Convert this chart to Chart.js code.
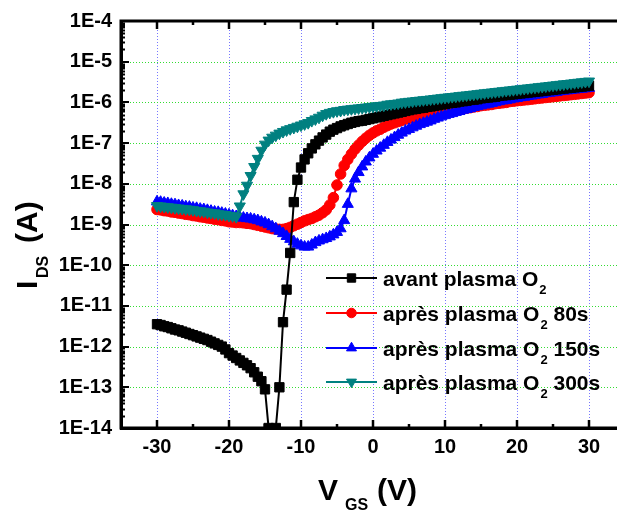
<!DOCTYPE html>
<html><head><meta charset="utf-8">
<script src="https://cdn.jsdelivr.net/npm/chart.js@4/dist/chart.umd.min.js"></script>
<style>
html,body{margin:0;padding:0;background:#fff;overflow:hidden;}
#wrap{position:relative;width:640px;height:511px;}
</style></head><body>
<div id="wrap"><canvas id="c" width="640" height="511"></canvas></div>
<script>
// V_GS (V)
const vgs = [
-30,-29.5,-29,-28.5,-28,-27.5,-27,-26.5,-26,-25.5,
-25,-24.5,-24,-23.5,-23,-22.5,-22,-21.5,-21,-20.5,
-20,-19.5,-19,-18.5,-18,-17.5,-17,-16.5,-16,-15.5,
-15,-14.5,-14,-13.5,-13,-12.5,-12,-11.5,-11,-10.5,
-10,-9.5,-9,-8.5,-8,-7.5,-7,-6.5,-6,-5.5,
-5,-4.5,-4,-3.5,-3,-2.5,-2,-1.5,-1,-0.5,
0,0.5,1,1.5,2,2.5,3,3.5,4,4.5,
5,5.5,6,6.5,7,7.5,8,8.5,9,9.5,
10,10.5,11,11.5,12,12.5,13,13.5,14,14.5,
15,15.5,16,16.5,17,17.5,18,18.5,19,19.5,
20,20.5,21,21.5,22,22.5,23,23.5,24,24.5,
25,25.5,26,26.5,27,27.5,28,28.5,29,29.5,
30];

// I_DS (A) — avant plasma O2
const avantPlasma = [
3.55e-12,3.39e-12,3.16e-12,3.02e-12,2.82e-12,2.63e-12,2.51e-12,2.34e-12,2.19e-12,2.04e-12,
1.91e-12,1.78e-12,1.66e-12,1.55e-12,1.45e-12,1.32e-12,1.20e-12,1.10e-12,1.00e-12,8.51e-13,
6.92e-13,6.03e-13,5.25e-13,4.57e-13,3.98e-13,3.47e-13,2.95e-13,2.34e-13,1.82e-13,1.41e-13,
8.91e-14,1.0e-14,9.0e-15,1.0e-14,1.0e-13,3.98e-12,2.51e-11,2.00e-10,3.55e-9,1.26e-8,
2.51e-8,3.98e-8,5.62e-8,7.41e-8,9.33e-8,1.15e-7,1.38e-7,1.62e-7,1.91e-7,2.14e-7,
2.34e-7,2.57e-7,2.75e-7,2.95e-7,3.16e-7,3.31e-7,3.47e-7,3.55e-7,3.72e-7,3.89e-7,
4.07e-7,4.27e-7,4.47e-7,4.68e-7,4.90e-7,5.13e-7,5.37e-7,5.62e-7,5.89e-7,6.17e-7,
6.46e-7,6.76e-7,6.92e-7,7.24e-7,7.41e-7,7.76e-7,7.94e-7,8.32e-7,8.51e-7,8.91e-7,
9.12e-7,9.55e-7,9.77e-7,1.00e-6,1.05e-6,1.07e-6,1.10e-6,1.15e-6,1.17e-6,1.20e-6,
1.26e-6,1.29e-6,1.32e-6,1.35e-6,1.38e-6,1.45e-6,1.48e-6,1.51e-6,1.55e-6,1.58e-6,
1.62e-6,1.66e-6,1.70e-6,1.74e-6,1.78e-6,1.82e-6,1.86e-6,1.91e-6,1.95e-6,2.00e-6,
2.04e-6,2.09e-6,2.14e-6,2.19e-6,2.24e-6,2.29e-6,2.34e-6,2.40e-6,2.45e-6,2.51e-6,
2.57e-6];

// après plasma O2 80s
const apres80s = [
2.34e-9,2.29e-9,2.19e-9,2.14e-9,2.04e-9,2.00e-9,1.91e-9,1.86e-9,1.78e-9,1.74e-9,
1.66e-9,1.62e-9,1.55e-9,1.51e-9,1.45e-9,1.41e-9,1.35e-9,1.32e-9,1.26e-9,1.23e-9,
1.17e-9,1.15e-9,1.12e-9,1.12e-9,1.10e-9,1.07e-9,1.05e-9,1.00e-9,9.55e-10,9.12e-10,
8.71e-10,8.32e-10,7.94e-10,7.76e-10,7.59e-10,7.59e-10,7.94e-10,8.51e-10,9.33e-10,1.02e-9,
1.12e-9,1.23e-9,1.32e-9,1.41e-9,1.55e-9,1.70e-9,1.95e-9,2.29e-9,3.02e-9,4.57e-9,
9.33e-9,1.74e-8,2.82e-8,3.98e-8,5.37e-8,7.08e-8,8.91e-8,1.10e-7,1.32e-7,1.55e-7,
1.78e-7,2.00e-7,2.19e-7,2.45e-7,2.69e-7,2.95e-7,3.16e-7,3.39e-7,3.63e-7,3.89e-7,
4.07e-7,4.27e-7,4.47e-7,4.68e-7,4.79e-7,5.01e-7,5.13e-7,5.37e-7,5.50e-7,5.75e-7,
5.89e-7,6.17e-7,6.31e-7,6.46e-7,6.76e-7,6.92e-7,7.24e-7,7.41e-7,7.76e-7,7.94e-7,
8.32e-7,8.51e-7,8.71e-7,8.91e-7,9.33e-7,9.55e-7,9.77e-7,1.00e-6,1.05e-6,1.07e-6,
1.10e-6,1.12e-6,1.15e-6,1.17e-6,1.20e-6,1.23e-6,1.26e-6,1.29e-6,1.32e-6,1.35e-6,
1.38e-6,1.41e-6,1.45e-6,1.48e-6,1.51e-6,1.55e-6,1.58e-6,1.62e-6,1.66e-6,1.70e-6,
1.74e-6];

// après plasma O2 150s
const apres150s = [
3.63e-9,3.55e-9,3.39e-9,3.31e-9,3.16e-9,3.09e-9,2.95e-9,2.88e-9,2.75e-9,2.69e-9,
2.57e-9,2.51e-9,2.40e-9,2.34e-9,2.24e-9,2.14e-9,2.04e-9,2.00e-9,1.91e-9,1.82e-9,
1.74e-9,1.66e-9,1.58e-9,1.51e-9,1.45e-9,1.41e-9,1.38e-9,1.32e-9,1.26e-9,1.17e-9,
1.10e-9,1.00e-9,8.91e-10,7.94e-10,6.92e-10,6.03e-10,5.13e-10,4.37e-10,3.80e-10,3.31e-10,
3.02e-10,2.82e-10,2.82e-10,3.16e-10,3.63e-10,3.98e-10,4.27e-10,4.57e-10,5.01e-10,5.62e-10,
6.46e-10,7.94e-10,1.26e-9,3.16e-9,7.59e-9,1.32e-8,1.91e-8,2.63e-8,3.47e-8,4.37e-8,
5.37e-8,6.46e-8,7.59e-8,8.91e-8,1.05e-7,1.20e-7,1.38e-7,1.58e-7,1.78e-7,2.00e-7,
2.19e-7,2.40e-7,2.63e-7,2.88e-7,3.09e-7,3.31e-7,3.55e-7,3.89e-7,4.17e-7,4.47e-7,
4.79e-7,5.13e-7,5.37e-7,5.75e-7,6.03e-7,6.46e-7,6.76e-7,7.08e-7,7.59e-7,7.94e-7,
8.32e-7,8.71e-7,9.12e-7,9.55e-7,1.00e-6,1.05e-6,1.10e-6,1.12e-6,1.17e-6,1.23e-6,
1.26e-6,1.32e-6,1.35e-6,1.41e-6,1.45e-6,1.51e-6,1.55e-6,1.58e-6,1.66e-6,1.70e-6,
1.74e-6,1.78e-6,1.86e-6,1.91e-6,1.95e-6,2.00e-6,2.04e-6,2.09e-6,2.14e-6,2.19e-6,
2.24e-6];

// après plasma O2 300s
const apres300s = [
2.88e-9,2.82e-9,2.75e-9,2.69e-9,2.63e-9,2.57e-9,2.51e-9,2.45e-9,2.40e-9,2.34e-9,
2.29e-9,2.19e-9,2.14e-9,2.09e-9,2.00e-9,1.95e-9,1.91e-9,1.82e-9,1.78e-9,1.74e-9,
1.66e-9,1.62e-9,1.55e-9,2.82e-9,5.62e-9,9.12e-9,1.58e-8,2.63e-8,4.17e-8,6.61e-8,
9.33e-8,1.17e-7,1.38e-7,1.55e-7,1.74e-7,1.91e-7,2.09e-7,2.24e-7,2.40e-7,2.57e-7,
2.75e-7,2.95e-7,3.16e-7,3.55e-7,3.89e-7,4.27e-7,4.79e-7,5.25e-7,5.62e-7,5.89e-7,
6.17e-7,6.31e-7,6.61e-7,6.76e-7,6.92e-7,7.08e-7,7.24e-7,7.41e-7,7.59e-7,7.76e-7,
7.94e-7,8.13e-7,8.32e-7,8.51e-7,8.91e-7,9.12e-7,9.33e-7,9.55e-7,1.00e-6,1.02e-6,
1.05e-6,1.07e-6,1.10e-6,1.12e-6,1.15e-6,1.17e-6,1.20e-6,1.23e-6,1.26e-6,1.29e-6,
1.32e-6,1.35e-6,1.38e-6,1.41e-6,1.45e-6,1.48e-6,1.51e-6,1.55e-6,1.58e-6,1.62e-6,
1.66e-6,1.70e-6,1.74e-6,1.78e-6,1.82e-6,1.86e-6,1.91e-6,1.95e-6,2.00e-6,2.04e-6,
2.09e-6,2.14e-6,2.19e-6,2.24e-6,2.29e-6,2.34e-6,2.40e-6,2.45e-6,2.51e-6,2.57e-6,
2.63e-6,2.69e-6,2.75e-6,2.82e-6,2.88e-6,2.95e-6,3.02e-6,3.09e-6,3.16e-6,3.24e-6,
3.31e-6];

const seriesLabels = ['avant plasma O₂', 'après plasma O₂ 80s', 'après plasma O₂ 150s', 'après plasma O₂ 300s'];

const xTickValues = [-30, -20, -10, 0, 10, 20, 30];
const xTickLabels = ['-30', '-20', '-10', '0', '10', '20', '30'];
const yTickValues = [1e-14, 1e-13, 1e-12, 1e-11, 1e-10, 1e-9, 1e-8, 1e-7, 1e-6, 1e-5, 1e-4];
const yTickLabels = ['1E-14', '1E-13', '1E-12', '1E-11', '1E-10', '1E-9', '1E-8', '1E-7', '1E-6', '1E-5', '1E-4'];
const xTitleParts = ['V', 'GS', '(V)'];
const yTitleParts = ['I', 'DS', '(A)'];

const FONT = '"Liberation Sans", Arial, sans-serif';
Chart.defaults.font.family = FONT;

const styles = [
  {color: '#000000', pointStyle: 'rect', radius: 6.6, rotation: 0, order: 1},
  {color: '#ff0000', pointStyle: 'circle', radius: 5.3, rotation: 0, order: 3},
  {color: '#0000ff', pointStyle: 'triangle', radius: 6.4, rotation: 0, order: 2},
  {color: '#008080', pointStyle: 'triangle', radius: 6.4, rotation: 180, order: 0}
];
const seriesData = [avantPlasma, apres80s, apres150s, apres300s];

const datasets = seriesData.map((arr, k) => ({
  label: seriesLabels[k],
  data: vgs.map((v, i) => ({x: v, y: arr[i]})),
  borderColor: styles[k].color,
  backgroundColor: styles[k].color,
  pointBackgroundColor: styles[k].color,
  pointBorderColor: styles[k].color,
  borderWidth: 2,
  pointStyle: styles[k].pointStyle,
  pointRadius: styles[k].radius,
  pointRotation: styles[k].rotation,
  pointBorderWidth: 1,
  tension: 0,
  order: styles[k].order
}));

// dotted grid drawn under the data, from the chart's own scales
const dottedGrid = {
  id: 'dottedGrid',
  beforeDatasetsDraw(chart) {
    const {ctx, chartArea: a, scales: {x, y}} = chart;
    ctx.save();
    ctx.lineWidth = 1;
    ctx.setLineDash([1, 2]);
    ctx.strokeStyle = '#7777ff';
    ctx.beginPath();
    xTickValues.forEach(v => {
      const px = Math.round(x.getPixelForValue(v)) + 0.5;
      ctx.moveTo(px, a.top); ctx.lineTo(px, a.bottom);
    });
    ctx.stroke();
    ctx.strokeStyle = '#33dd33';
    ctx.beginPath();
    yTickValues.forEach(v => {
      const py = Math.round(y.getPixelForValue(v)) + 0.5;
      ctx.moveTo(a.left, py); ctx.lineTo(a.right, py);
    });
    ctx.stroke();
    ctx.restore();
  }
};

const decor = {
  id: 'decor',
  afterDraw(chart) {
    const {ctx, chartArea: a, scales: {x, y}} = chart;
    ctx.save();
    ctx.strokeStyle = '#000';
    // frame lines
    ctx.lineWidth = 3;
    ctx.beginPath();
    ctx.moveTo(a.left - 1.5, a.top); ctx.lineTo(chart.width, a.top);
    ctx.moveTo(a.left, a.top); ctx.lineTo(a.left, a.bottom);
    ctx.moveTo(a.left - 1.5, a.bottom); ctx.lineTo(chart.width, a.bottom);
    ctx.stroke();
    // x ticks (inward, bottom and top)
    ctx.lineWidth = 2.5;
    const xt = [];
    xTickValues.forEach((v, i) => {
      xt.push([v, 8]);
      if (i < xTickValues.length - 1) xt.push([(v + xTickValues[i + 1]) / 2, 4]);
    });
    xt.push([xTickValues[xTickValues.length - 1] + 5, 4]);
    ctx.beginPath();
    xt.forEach(([v, len]) => {
      const px = Math.round(x.getPixelForValue(v));
      ctx.moveTo(px, a.bottom); ctx.lineTo(px, a.bottom - len);
      ctx.moveTo(px, a.top); ctx.lineTo(px, a.top + len);
    });
    ctx.stroke();
    // y ticks (inward on left)
    ctx.beginPath();
    ctx.lineWidth = 2;
    yTickValues.forEach((v, i) => {
      const py = Math.round(y.getPixelForValue(v));
      ctx.moveTo(a.left, py); ctx.lineTo(a.left + 8, py);
      if (i < yTickValues.length - 1) {
        for (let m = 2; m <= 9; m++) {
          const pm = Math.round(y.getPixelForValue(v * m)) + 0.5;
          ctx.moveTo(a.left, pm); ctx.lineTo(a.left + 4, pm);
        }
      }
    });
    ctx.stroke();

    // legend
    const rowY = [278, 313, 348, 382];
    chart.data.datasets.forEach((ds, k) => {
      const yy = rowY[k];
      const st = styles[k];
      ctx.strokeStyle = st.color; ctx.fillStyle = st.color;
      ctx.lineWidth = 2;
      ctx.beginPath(); ctx.moveTo(326, yy); ctx.lineTo(377, yy); ctx.stroke();
      ctx.lineWidth = 1;
      Chart.helpers.drawPoint(ctx, {pointStyle: st.pointStyle, radius: st.radius * 0.9, rotation: st.rotation, borderWidth: 1}, 351.5, yy);
      const parts = ds.label.split('₂');
      ctx.fillStyle = '#000';
      ctx.textBaseline = 'alphabetic';
      ctx.textAlign = 'left';
      let tx = 383;
      const base = yy + 7.5;
      ctx.font = 'bold 21px ' + FONT;
      ctx.fillText(parts[0], tx, base);
      tx += ctx.measureText(parts[0]).width + 1;
      ctx.font = 'bold 13px ' + FONT;
      ctx.fillText('2', tx, base + 8);
      tx += ctx.measureText('2').width;
      if (parts[1]) {
        ctx.font = 'bold 21px ' + FONT;
        ctx.fillText(parts[1], tx, base);
      }
    });

    // x title
    ctx.fillStyle = '#000';
    ctx.font = 'bold 30px ' + FONT;
    ctx.fillText(xTitleParts[0], 318, 500);
    ctx.font = 'bold 16px ' + FONT;
    ctx.fillText(xTitleParts[1], 345, 510);
    ctx.font = 'bold 30px ' + FONT;
    ctx.fillText(xTitleParts[2], 377, 500);

    // y title (rotated)
    ctx.save();
    ctx.rotate(-Math.PI / 2);
    ctx.font = 'bold 30px ' + FONT;
    ctx.fillText(yTitleParts[0], -289, 37);
    ctx.font = 'bold 16px ' + FONT;
    ctx.fillText(yTitleParts[1], -278, 48);
    ctx.font = 'bold 30px ' + FONT;
    ctx.fillText(yTitleParts[2], -243, 37);
    ctx.restore();

    ctx.restore();
  }
};

new Chart(document.getElementById('c'), {
  type: 'line',
  data: {datasets},
  options: {
    responsive: false,
    animation: false,
    devicePixelRatio: 1,
    layout: {padding: {left: 0, top: 20, right: 15, bottom: 0}},
    plugins: {legend: {display: false}, tooltip: {enabled: false}},
    scales: {
      x: {
        type: 'linear', min: -35, max: 35,
        afterBuildTicks: s => { s.ticks = xTickValues.map(v => ({value: v})); },
        afterFit: s => { s.height = 83; },
        ticks: {
          autoSkip: false, maxRotation: 0, padding: 7, color: '#000',
          font: {size: 20, weight: 'bold', family: FONT},
          callback: (v, i) => xTickLabels[i]
        },
        grid: {display: false, drawTicks: false},
        border: {display: true, color: '#000', width: 3}
      },
      y: {
        type: 'logarithmic', min: 1e-14, max: 1e-4,
        afterBuildTicks: s => { s.ticks = yTickValues.map(v => ({value: v})); },
        afterFit: s => { s.width = 121; },
        ticks: {
          autoSkip: false, padding: 9, color: '#000',
          font: {size: 20, weight: 'bold', family: FONT},
          callback: (v, i) => yTickLabels[i]
        },
        grid: {display: false, drawTicks: false},
        border: {display: true, color: '#000', width: 3}
      }
    }
  },
  plugins: [dottedGrid, decor]
});
</script>
</body></html>
